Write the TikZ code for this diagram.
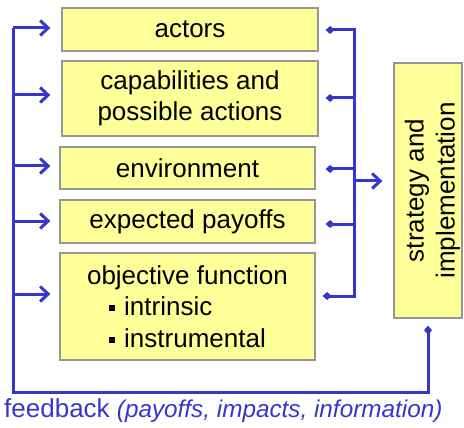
\documentclass[tikz,border=0pt]{standalone}
\usepackage{fontspec}
\setmainfont{Liberation Sans}
\usetikzlibrary{arrows.meta}
\definecolor{lineblue}{RGB}{54,54,204}
\definecolor{boxfill}{RGB}{255,255,153}
\definecolor{boxline}{RGB}{150,150,150}
\newcommand{\sqbul}{\raisebox{4pt}{\rule{6pt}{6pt}}\hspace{9pt}}
\newlength{\bulw}
\begin{document}
\begin{tikzpicture}[x=1pt,y=-1pt,
  box/.style={draw=boxline,line width=1.3pt,fill=boxfill,inner sep=0pt,align=center,
    font=\fontsize{26}{31}\selectfont},
  conn/.style={draw=lineblue,line width=3pt},
  tip/.style={-{Straight Barb[length=8pt,width=15pt,line width=3pt]}},
  dtip/.style={{Diamond[length=9pt,width=8pt]}-}]
\useasboundingbox (0,0) rectangle (464,428);
\node[box,minimum width=256pt,minimum height=43pt] (actors) at (190,29.5) {actors};
\node[box,minimum width=256pt,minimum height=75pt] (cap) at (190,98.5) {capabilities and\\possible actions};
\node[box,minimum width=255pt,minimum height=42pt] (env) at (187.5,168) {environment};
\node[box,minimum width=255pt,minimum height=43pt] (pay) at (187.5,221.5) {expected payoffs};
\node[box,minimum width=255pt,minimum height=107pt] (obj) at (187.5,306.5)
  {objective function\\[0pt]
   \settowidth{\bulw}{\sqbul instrumental}\makebox[\bulw][l]{\sqbul intrinsic}\\[1pt]\sqbul instrumental};
\node[box,minimum width=68pt,minimum height=255pt] (strat) at (428,190.5)
  {\makebox[50pt]{\hspace*{10pt}\rotatebox{90}{\begin{tabular}{@{}c@{}}strategy and\\implementation\end{tabular}}}};
% feedback loop
\coordinate (fbl) at (13,392);
\coordinate (fbtop) at (13,28);
\draw[conn,dtip] ([yshift=-7pt]strat.south) |- (fbl) -- (fbtop);
\draw[conn,tip,shorten >=11pt] (fbtop) -- (fbtop -| actors.west);
\draw[conn,tip,shorten >=11pt] (fbl |- 0,95) -- (actors.west |- 0,95);
\draw[conn,tip,shorten >=9pt] (fbl |- 0,166) -- (env.west |- 0,166);
\draw[conn,tip,shorten >=9pt] (fbl |- 0,221) -- (pay.west |- 0,221);
\draw[conn,tip,shorten >=9pt] (fbl |- 0,294) -- (obj.west |- 0,294);
% right bus
\coordinate (bus) at (354,181);
\draw[conn,dtip] ([xshift=7pt,yshift=-0.5pt]actors.east) -| (bus);
\draw[conn,dtip] ([xshift=7pt,yshift=10.5pt]obj.east) -| (bus);
\draw[conn,dtip] ([xshift=7pt]cap.east |- 0,98) -- (bus |- 0,98);
\draw[conn,dtip] ([xshift=10pt]env.east |- 0,169) -- (bus |- 0,169);
\draw[conn,dtip] ([xshift=10pt]pay.east |- 0,224) -- (bus |- 0,224);
\draw[conn,tip,shorten >=11pt] (bus) -- (bus -| strat.west);
\node[anchor=west,inner sep=0pt,text=lineblue,font=\fontsize{26}{31}\selectfont] (fbtext) at (4,411)
  {feedback {\fontsize{24.3}{28}\selectfont\itshape (payoffs, impacts, information)}};
\end{tikzpicture}
\end{document}
